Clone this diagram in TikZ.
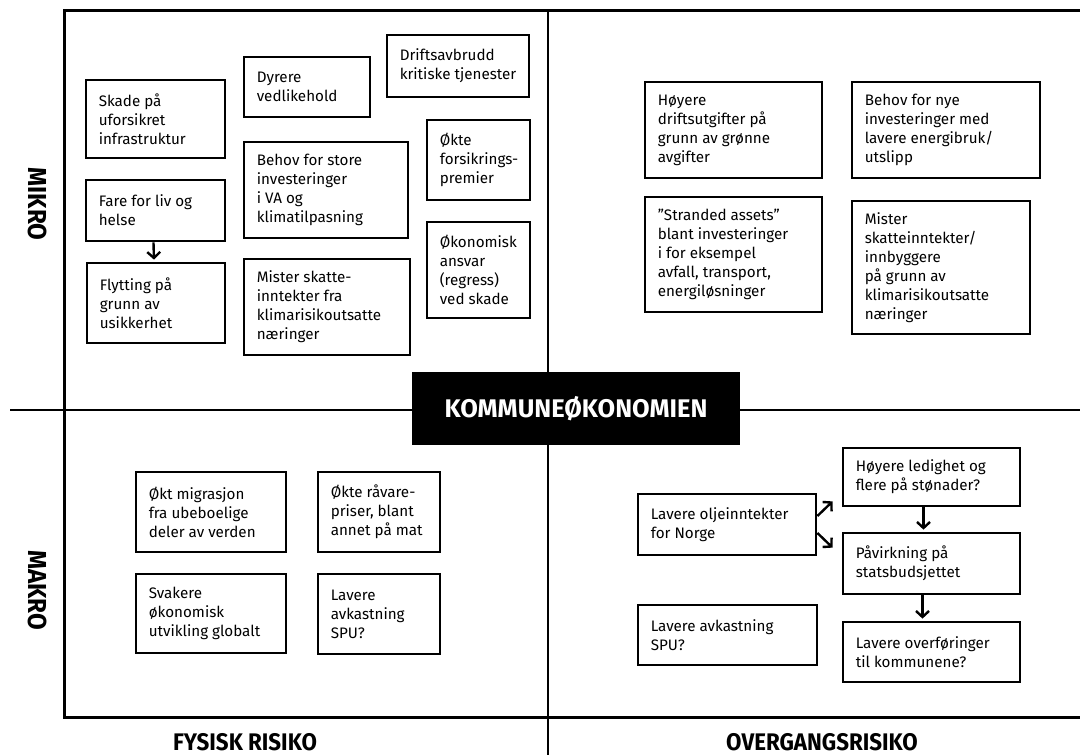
\documentclass[tikz,border=0pt]{standalone}
\usepackage{fontspec}
\setmainfont{Fira Sans}
\newfontfamily\labfont{Fira Sans}[FakeStretch=0.93]
\usetikzlibrary{arrows.meta}
\tikzset{
 box/.style={draw=black, line width=2.8pt, inner sep=0pt, fill=white},
 txt/.style={align=left, inner sep=0pt, font=\fontsize{15.2}{19}\selectfont},
 arr/.style={line width=2.4pt, -{Straight Barb[length=6pt,width=13pt]}, shorten >=2pt},
 frame/.style={line width=3pt},
 axis/.style={line width=2.2pt},
 lab/.style={font=\labfont\bfseries\fontsize{24}{26}\selectfont},
 vlab/.style={font=\labfont\bfseries\fontsize{26}{28}\selectfont, rotate=-90},
}
\newcommand{\bx}[6]{%
 \pgfmathsetmacro{\myBW}{#4-#2}\pgfmathsetmacro{\myBH}{#5-#3}%
 \node[box,minimum width=\myBW pt,minimum height=\myBH pt] (#1) at ({(#2+#4)/2},{(#3+#5)/2}) {};%
 \node[txt,anchor=west] (#1-t) at ([xshift=14pt]#1.west) {#6};}
\begin{document}
\begin{tikzpicture}[x=1pt,y=-1pt]
\useasboundingbox (0,0) rectangle (1080,755);
% frame and axes
\draw[frame] (1080,10) -- (64,10) -- (64,717) -- (1080,717);
\draw[axis] (10,410) -- (1080,410);
\draw[axis] (548,10) -- (548,755);
% top-left
\bx{skade}{86}{80}{225}{158}{Skade på\\uforsikret\\infrastruktur}
\bx{fare}{86}{180}{225}{241}{Fare for liv og\\helse}
\bx{flytt}{87}{263}{225}{343}{Flytting på\\grunn av\\usikkerhet}
\bx{dyrere}{244}{57}{370}{117}{Dyrere\\vedlikehold}
\bx{behov}{244}{142}{408}{238}{Behov for store\\investeringer\\i VA og\\klimatilpasning}
\bx{mister}{244}{259}{410}{355}{Mister skatte-\\inntekter fra\\klimarisikoutsatte\\næringer}
\bx{drift}{387}{35}{529}{97}{Driftsavbrudd\\kritiske tjenester}
\bx{okte}{427}{120}{530}{200}{Økte\\forsikrings-\\premier}
\bx{okon}{427}{222}{530}{318}{Økonomisk\\ansvar\\(regress)\\ved skade}
% top-right
\bx{hoyere}{645}{82}{822}{178}{Høyere\\driftsutgifter på\\grunn av grønne\\avgifter}
\bx{nyeinv}{852}{82}{1040}{178}{Behov for nye\\investeringer med\\lavere energibruk/\\utslipp}
\bx{strand}{645}{197}{822}{312}{”Stranded assets”\\blant investeringer\\i for eksempel\\avfall, transport,\\energiløsninger}
\bx{misterto}{852}{201}{1030}{334}{Mister\\skatteinntekter/\\innbyggere\\på grunn av\\klimarisikoutsatte\\næringer}
% bottom-left
\bx{migr}{136}{472}{286}{552}{Økt migrasjon\\fra ubeboelige\\deler av verden}
\bx{ravare}{318}{472}{440}{552}{Økte råvare-\\priser, blant\\annet på mat}
\bx{svak}{136}{574}{286}{653}{Svakere\\økonomisk\\utvikling globalt}
\bx{spu}{318}{574}{440}{654}{Lavere\\avkastning\\SPU?}
% bottom-right
\bx{olje}{638}{494}{816}{555}{Lavere oljeinntekter\\for Norge}
\bx{ledig}{843}{448}{1020}{506}{Høyere ledighet og\\flere på stønader?}
\bx{stat}{843}{533}{1020}{594}{Påvirkning på\\statsbudsjettet}
\bx{sputo}{638}{605}{817}{665}{Lavere avkastning\\SPU?}
\bx{overf}{843}{622}{1020}{682}{Lavere overføringer\\til kommunene?}
% center
\node[fill=black, minimum width=328pt, minimum height=73pt, inner sep=0pt, text=white, font=\bfseries\fontsize{25.5}{28}\selectfont] (center) at (576,408.5) {KOMMUNEØKONOMIEN};
% arrows
\draw[arr] ([xshift=-2pt]fare.south) -- ([xshift=-2pt]flytt.north);
\draw[arr] ([xshift=-8pt]ledig.south) -- ([xshift=-8pt]stat.north);
\draw[arr] ([xshift=-9pt]stat.south) -- ([xshift=-9pt]overf.north);
\coordinate (oa) at (834,500);
\coordinate (ob) at (834,549);
\draw[arr] ([yshift=8.5pt]olje.east) -- (oa);
\draw[arr] ([yshift=-8.5pt]olje.east) -- (ob);
% labels
\node[vlab] (mikro) at (38,204) {MIKRO};
\node[vlab] (makro) at (38,590) {MAKRO};
\node[lab] (fys) at (245,742) {FYSISK RISIKO};
\node[lab] (overg) at (822,742) {OVERGANGSRISIKO};
\end{tikzpicture}
\end{document}
